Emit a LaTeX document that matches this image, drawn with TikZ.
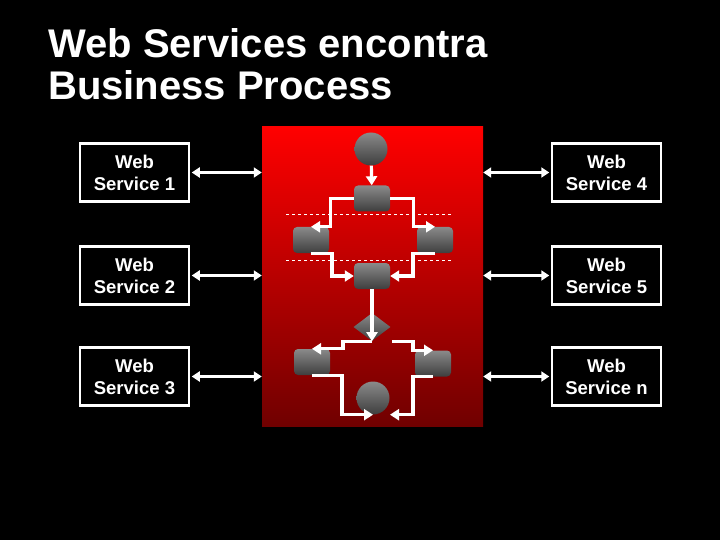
\documentclass[tikz,border=0pt]{standalone}
\usepackage{fontspec}
\setmainfont{Liberation Sans}
\usetikzlibrary{shapes.geometric,arrows.meta}

\begin{document}
\begin{tikzpicture}[x=1pt, y=-1pt,
        wsbox/.style={draw=white, line width=2.5pt, fill=black, text=white, minimum width=109, minimum height=58, inner sep=0pt, align=center, font=\bfseries\fontsize{18.5}{22}\selectfont},
        panel/.style={top color=redtop, bottom color=redbot, minimum width=221, minimum height=299, inner sep=0pt},
        task/.style={rounded corners=4pt, top color=greytop, bottom color=greybot, minimum width=36, minimum height=26, inner sep=0pt},
        event/.style={circle, top color=greytop, bottom color=greybot, minimum size=33, inner sep=0pt},
        gate/.style={diamond, top color=greytop, bottom color=greybot, minimum width=37, minimum height=28, inner sep=0pt},
        flow/.style={white, line width=3.2pt, -{Triangle[length=9pt, width=11pt]}},
        link/.style={white, line width=3pt, {Triangle[length=8pt, width=10pt]}-{Triangle[length=8pt, width=10pt]}},
        titletext/.style={anchor=base west, text=white, inner sep=0pt, font=\bfseries\fontsize{40}{42}\selectfont}]
            \definecolor{redtop}{RGB}{255, 0, 0}
            \definecolor{redbot}{RGB}{112, 0, 0}
            \definecolor{greytop}{RGB}{138, 138, 138}
            \definecolor{greybot}{RGB}{62, 62, 62}

            \fill[black] (0,0) rectangle (720,540);
            \useasboundingbox (0,0) rectangle (720,540);

            \node[titletext] (title1) at (48,58) {Web Services encontra};
            \node[titletext] (title2) at (48,100) {Business Process};

            \node[panel] (bp) at (372.5,276.5) {};

            \node[wsbox] (ws1) at (134.5,172.5) {Web\\Service 1};
            \node[wsbox] (ws2) at (134.5,275.5) {Web\\Service 2};
            \node[wsbox] (ws3) at (134.5,376.5) {Web\\Service 3};
            \node[wsbox] (ws4) at (606.5,172.5) {Web\\Service 4};
            \node[wsbox] (ws5) at (606.5,275.5) {Web\\Service 5};
            \node[wsbox] (wsn) at (606.5,376.5) {Web\\Service n};

            \foreach \n in {1,2,3} {
                    \draw[link, shorten <=1.5pt] (ws\n.east) -- (ws\n.east -| bp.west);
                }
            \foreach \n in {4,5,n} {
                    \draw[link, shorten <=1.5pt] (ws\n.west) -- (ws\n.west -| bp.east);
                }

            \draw[white, dashed, line width=0.8pt] (286,214) -- (451,214);
            \draw[white, dashed, line width=0.8pt] (286,260) -- (451,260);

            \node[event] (start) at (371,149) {};
            \node[task] (t1) at (372,198.5) {};
            \node[task] (t2) at (311,240) {};
            \node[task] (t3) at (435,240) {};
            \node[task] (t4) at (372,276) {};
            \node[gate] (gw) at (372,327) {};
            \node[task] (t5) at (312,362) {};
            \node[task] (t6) at (433,363.5) {};
            \node[event] (stop) at (373,398) {};

            \draw[flow] (start) -- (t1);
            \draw[flow] (t1.west) -- ++(-23,0) |- (t2.north);
            \draw[flow] (t1.east) -- ++(23,0) |- (t3.north);
            \draw[flow] (t2.south) -- ++(21,0) |- (t4.west);
            \draw[flow] (t3.south) -- ++(-22,0) |- (t4.east);
            \draw[flow] (t4.south) -- (gw.south);
            \draw[flow] (gw.south) -- ++(-29,0) |- (t5.north);
            \draw[flow] ([xshift=20]gw.south) -- ++(21,0) |- (t6.north);
            \draw[flow] (t5.south) -- ++(30,0) |- (stop.south);
            \draw[flow] (t6.south) -- ++(-20,0) |- ([xshift=17]stop.south);
        \end{tikzpicture}
\end{document}
